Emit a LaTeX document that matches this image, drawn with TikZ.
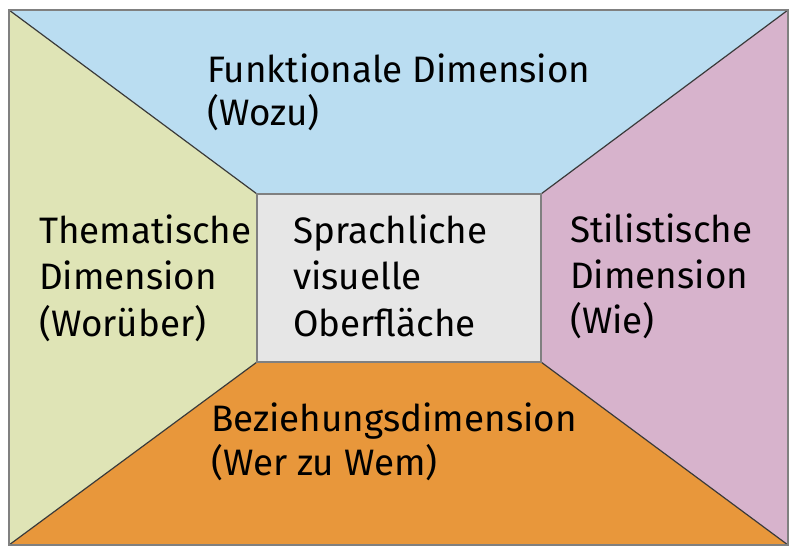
\documentclass[tikz,border=0pt]{standalone}
\usepackage{fontspec}
\setmainfont{Fira Sans}
\definecolor{cblue}{HTML}{BADDF1}
\definecolor{cgreen}{HTML}{DFE4B6}
\definecolor{cpink}{HTML}{D7B3CC}
\definecolor{corange}{HTML}{E8973B}
\definecolor{cgray}{HTML}{E6E6E6}
\definecolor{cline}{HTML}{3A3A3A}
\begin{document}
\begin{tikzpicture}[x=1pt,y=-1pt,
  lbl/.style={anchor=base west,inner sep=0pt,font=\fontsize{36.8}{45}\selectfont},
  edge/.style={draw=cline,line width=1.2pt,line join=miter}]
\useasboundingbox (0,0) rectangle (800,559);
\coordinate (A) at (9,10);
\coordinate (B) at (788,10);
\coordinate (C) at (788,545);
\coordinate (D) at (9,545);
\coordinate (a) at (257,194);
\coordinate (b) at (541,194);
\coordinate (c) at (541,362);
\coordinate (d) at (257,362);
\fill[cblue] (A) -- (B) -- (b) -- (a) -- cycle;
\fill[cpink] (B) -- (C) -- (c) -- (b) -- cycle;
\fill[corange] (C) -- (D) -- (d) -- (c) -- cycle;
\fill[cgreen] (D) -- (A) -- (a) -- (d) -- cycle;
\fill[cgray] (a) rectangle (c);
\draw[edge] (A) -- (a) (B) -- (b) (C) -- (c) (D) -- (d);
\draw[edge,draw=gray] (a) rectangle (c);
\draw[edge,draw=gray] (A) rectangle (C);
\node[lbl] (t1) at (207,83) {Funktionale Dimension};
\node[lbl] (t2) at (207,126) {(Wozu)};
\node[lbl] (l1) at (39,243) {Thematische};
\node[lbl] (l2) at (39,289) {Dimension};
\node[lbl] (l3) at (39,336) {(Worüber)};
\node[lbl] (m1) at (293,243) {Sprachliche};
\node[lbl] (m2) at (293,289) {visuelle};
\node[lbl] (m3) at (293,336) {Oberfläche};
\node[lbl] (r1) at (570,242) {Stilistische};
\node[lbl] (r2) at (570,288) {Dimension};
\node[lbl] (r3) at (570,333) {(Wie)};
\node[lbl] (b1) at (211,431) {Beziehungsdimension};
\node[lbl] (b2) at (211,475) {(Wer zu Wem)};
\end{tikzpicture}
\end{document}
